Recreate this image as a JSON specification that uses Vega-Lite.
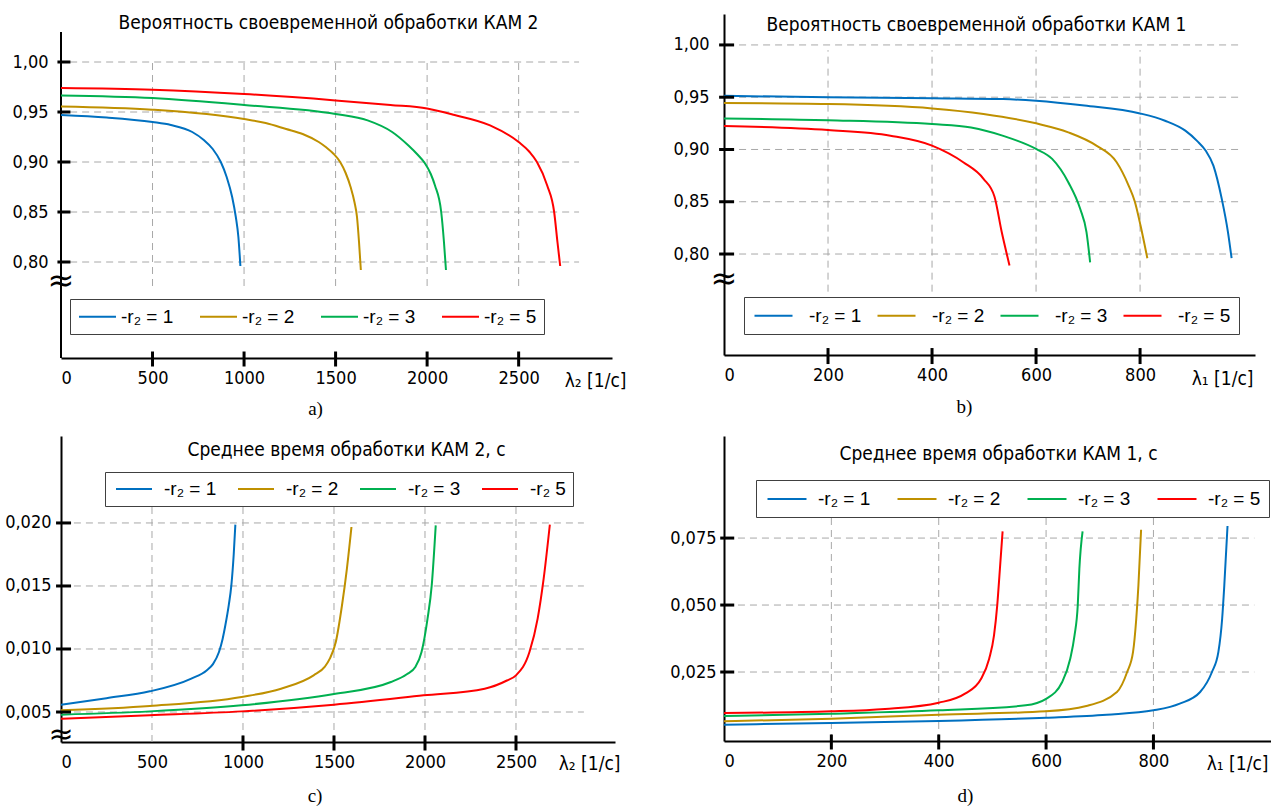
{
  "$schema": "https://vega.github.io/schema/vega-lite/v6.json",
  "padding": {"left": 4, "top": 13, "right": 0, "bottom": 0},
  "background": "white",
  "columns": 2,
  "bounds": "flush",
  "spacing": {"row": 78, "column": 109},
  "resolve": {"scale": {"color": "independent", "x": "independent", "y": "independent"}, "legend": {"color": "independent"}, "axis": {"x": "independent", "y": "independent"}},
  "config": {
    "view": {"stroke": null},
    "axis": {"domainColor": "#000", "domainWidth": 2, "ticks": false, "grid": false, "labelFont": "Liberation Sans Narrow, Arial Narrow, DejaVu Sans Condensed, sans-serif", "labelFontSize": 18, "labelColor": "#000", "titleFont": "Liberation Sans Narrow, Arial Narrow, DejaVu Sans Condensed, sans-serif", "titleFontSize": 19, "titleFontWeight": "normal", "titleColor": "#000"},
    "legend": {"labelFont": "Liberation Sans, Arial, sans-serif", "labelFontSize": 19, "labelColor": "#000", "symbolType": "M-2,0L2,0", "symbolStrokeWidth": 2, "strokeColor": "#404040", "fillColor": "#ffffff", "direction": "horizontal", "orient": "none"},
    "title": {"font": "Liberation Serif, serif", "fontSize": 19, "fontWeight": "normal", "color": "#000"},
    "line": {"strokeWidth": 2, "interpolate": "monotone"},
    "tick": {"thickness": 3, "color": "#000", "opacity": 1}
  },
  "datasets": {
    "la": [
      {"x":0,"y":0.947,"s":"1"},{"x":250,"y":0.9445,"s":"1"},{"x":500,"y":0.940,"s":"1"},{"x":600,"y":0.937,"s":"1"},{"x":717,"y":0.930,"s":"1"},{"x":780,"y":0.922,"s":"1"},{"x":829,"y":0.913,"s":"1"},{"x":873,"y":0.900,"s":"1"},{"x":905,"y":0.885,"s":"1"},{"x":935,"y":0.865,"s":"1"},{"x":955,"y":0.845,"s":"1"},{"x":969,"y":0.825,"s":"1"},{"x":980,"y":0.796,"s":"1"},
      {"x":0,"y":0.9556,"s":"2"},{"x":500,"y":0.9523,"s":"2"},{"x":1000,"y":0.943,"s":"2"},{"x":1118,"y":0.939,"s":"2"},{"x":1230,"y":0.933,"s":"2"},{"x":1320,"y":0.928,"s":"2"},{"x":1408,"y":0.920,"s":"2"},{"x":1450,"y":0.9145,"s":"2"},{"x":1490,"y":0.908,"s":"2"},{"x":1525,"y":0.900,"s":"2"},{"x":1555,"y":0.889,"s":"2"},{"x":1582,"y":0.875,"s":"2"},{"x":1603,"y":0.860,"s":"2"},{"x":1617,"y":0.845,"s":"2"},{"x":1628,"y":0.82,"s":"2"},{"x":1638,"y":0.792,"s":"2"},
      {"x":0,"y":0.9666,"s":"3"},{"x":500,"y":0.964,"s":"3"},{"x":1000,"y":0.957,"s":"3"},{"x":1500,"y":0.948,"s":"3"},{"x":1675,"y":0.9416,"s":"3"},{"x":1809,"y":0.930,"s":"3"},{"x":1898,"y":0.9165,"s":"3"},{"x":1950,"y":0.907,"s":"3"},{"x":1987,"y":0.899,"s":"3"},{"x":2020,"y":0.888,"s":"3"},{"x":2043,"y":0.8765,"s":"3"},{"x":2077,"y":0.850,"s":"3"},{"x":2092,"y":0.82,"s":"3"},{"x":2103,"y":0.792,"s":"3"},
      {"x":0,"y":0.974,"s":"5"},{"x":500,"y":0.9723,"s":"5"},{"x":1000,"y":0.968,"s":"5"},{"x":1500,"y":0.9616,"s":"5"},{"x":1800,"y":0.957,"s":"5"},{"x":2000,"y":0.9535,"s":"5"},{"x":2150,"y":0.947,"s":"5"},{"x":2344,"y":0.9366,"s":"5"},{"x":2500,"y":0.920,"s":"5"},{"x":2560,"y":0.910,"s":"5"},{"x":2600,"y":0.900,"s":"5"},{"x":2656,"y":0.8765,"s":"5"},{"x":2694,"y":0.850,"s":"5"},{"x":2712,"y":0.82,"s":"5"},{"x":2727,"y":0.796,"s":"5"}
    ],
    "lb": [
      {"x":0,"y":0.9513,"s":"1"},{"x":200,"y":0.950,"s":"1"},{"x":400,"y":0.949,"s":"1"},{"x":537,"y":0.9482,"s":"1"},{"x":600,"y":0.9466,"s":"1"},{"x":693,"y":0.942,"s":"1"},{"x":800,"y":0.9345,"s":"1"},{"x":848,"y":0.9275,"s":"1"},{"x":887,"y":0.918,"s":"1"},{"x":910,"y":0.908,"s":"1"},{"x":926,"y":0.899,"s":"1"},{"x":941,"y":0.8846,"s":"1"},{"x":957,"y":0.853,"s":"1"},{"x":969,"y":0.821,"s":"1"},{"x":976,"y":0.796,"s":"1"},
      {"x":0,"y":0.9444,"s":"2"},{"x":200,"y":0.9434,"s":"2"},{"x":400,"y":0.9393,"s":"2"},{"x":499,"y":0.934,"s":"2"},{"x":600,"y":0.925,"s":"2"},{"x":662,"y":0.9164,"s":"2"},{"x":716,"y":0.9037,"s":"2"},{"x":755,"y":0.8878,"s":"2"},{"x":778,"y":0.8655,"s":"2"},{"x":790,"y":0.85,"s":"2"},{"x":801,"y":0.827,"s":"2"},{"x":814,"y":0.796,"s":"2"},
      {"x":0,"y":0.9297,"s":"3"},{"x":200,"y":0.928,"s":"3"},{"x":400,"y":0.9243,"s":"3"},{"x":475,"y":0.921,"s":"3"},{"x":537,"y":0.913,"s":"3"},{"x":600,"y":0.9005,"s":"3"},{"x":631,"y":0.891,"s":"3"},{"x":662,"y":0.8687,"s":"3"},{"x":685,"y":0.843,"s":"3"},{"x":697,"y":0.821,"s":"3"},{"x":704,"y":0.792,"s":"3"},
      {"x":0,"y":0.9224,"s":"5"},{"x":200,"y":0.9186,"s":"5"},{"x":320,"y":0.9132,"s":"5"},{"x":400,"y":0.9037,"s":"5"},{"x":460,"y":0.8878,"s":"5"},{"x":499,"y":0.8719,"s":"5"},{"x":520,"y":0.855,"s":"5"},{"x":534,"y":0.821,"s":"5"},{"x":549,"y":0.789,"s":"5"}
    ],
    "lc": [
      {"x":0,"y":0.00558,"s":"1"},{"x":250,"y":0.0061,"s":"1"},{"x":488,"y":0.00664,"s":"1"},{"x":716,"y":0.00765,"s":"1"},{"x":800,"y":0.0083,"s":"1"},{"x":835,"y":0.0088,"s":"1"},{"x":868,"y":0.00976,"s":"1"},{"x":888,"y":0.0108,"s":"1"},{"x":903,"y":0.01188,"s":"1"},{"x":922,"y":0.0135,"s":"1"},{"x":936,"y":0.01505,"s":"1"},{"x":949,"y":0.0175,"s":"1"},{"x":958,"y":0.01987,"s":"1"},
      {"x":0,"y":0.00513,"s":"2"},{"x":488,"y":0.00548,"s":"2"},{"x":992,"y":0.00619,"s":"2"},{"x":1209,"y":0.00685,"s":"2"},{"x":1388,"y":0.00791,"s":"2"},{"x":1450,"y":0.0086,"s":"2"},{"x":1477,"y":0.00923,"s":"2"},{"x":1510,"y":0.01056,"s":"2"},{"x":1544,"y":0.01347,"s":"2"},{"x":1571,"y":0.01638,"s":"2"},{"x":1596,"y":0.01968,"s":"2"},
      {"x":0,"y":0.00479,"s":"3"},{"x":488,"y":0.00505,"s":"3"},{"x":992,"y":0.00553,"s":"3"},{"x":1500,"y":0.00643,"s":"3"},{"x":1813,"y":0.00738,"s":"3"},{"x":1900,"y":0.0080,"s":"3"},{"x":1947,"y":0.00857,"s":"3"},{"x":1981,"y":0.00976,"s":"3"},{"x":2014,"y":0.01241,"s":"3"},{"x":2037,"y":0.01505,"s":"3"},{"x":2059,"y":0.01981,"s":"3"},
      {"x":0,"y":0.00447,"s":"5"},{"x":488,"y":0.00474,"s":"5"},{"x":992,"y":0.00505,"s":"5"},{"x":1500,"y":0.00558,"s":"5"},{"x":1992,"y":0.00632,"s":"5"},{"x":2328,"y":0.00685,"s":"5"},{"x":2450,"y":0.0075,"s":"5"},{"x":2500,"y":0.00791,"s":"5"},{"x":2574,"y":0.00976,"s":"5"},{"x":2619,"y":0.01241,"s":"5"},{"x":2652,"y":0.01558,"s":"5"},{"x":2686,"y":0.01987,"s":"5"}
    ],
    "ld": [
      {"x":0,"y":0.00535,"s":"1"},{"x":200,"y":0.00597,"s":"1"},{"x":400,"y":0.00672,"s":"1"},{"x":600,"y":0.00796,"s":"1"},{"x":713,"y":0.00908,"s":"1"},{"x":800,"y":0.0107,"s":"1"},{"x":849,"y":0.0132,"s":"1"},{"x":887,"y":0.01754,"s":"1"},{"x":909,"y":0.025,"s":"1"},{"x":921,"y":0.0325,"s":"1"},{"x":928,"y":0.0449,"s":"1"},{"x":932,"y":0.0573,"s":"1"},{"x":938,"y":0.0795,"s":"1"},
      {"x":0,"y":0.00659,"s":"2"},{"x":200,"y":0.00759,"s":"2"},{"x":400,"y":0.00908,"s":"2"},{"x":600,"y":0.01032,"s":"2"},{"x":675,"y":0.01231,"s":"2"},{"x":732,"y":0.01754,"s":"2"},{"x":751,"y":0.025,"s":"2"},{"x":762,"y":0.0325,"s":"2"},{"x":768,"y":0.0449,"s":"2"},{"x":772,"y":0.0573,"s":"2"},{"x":777,"y":0.0781,"s":"2"},
      {"x":0,"y":0.00858,"s":"3"},{"x":200,"y":0.00945,"s":"3"},{"x":400,"y":0.0107,"s":"3"},{"x":562,"y":0.01256,"s":"3"},{"x":600,"y":0.015,"s":"3"},{"x":630,"y":0.02127,"s":"3"},{"x":645,"y":0.02998,"s":"3"},{"x":653,"y":0.03868,"s":"3"},{"x":659,"y":0.0499,"s":"3"},{"x":662,"y":0.06356,"s":"3"},{"x":668,"y":0.0775,"s":"3"},
      {"x":0,"y":0.0097,"s":"5"},{"x":200,"y":0.01032,"s":"5"},{"x":300,"y":0.0112,"s":"5"},{"x":400,"y":0.01356,"s":"5"},{"x":449,"y":0.01692,"s":"5"},{"x":479,"y":0.02251,"s":"5"},{"x":494,"y":0.02998,"s":"5"},{"x":503,"y":0.03868,"s":"5"},{"x":509,"y":0.0499,"s":"5"},{"x":514,"y":0.06356,"s":"5"},{"x":519,"y":0.0775,"s":"5"}
    ],
    "gxa": [{"x":500},{"x":1000},{"x":1500},{"x":2000},{"x":2500}],
    "gya": [{"y":0.8},{"y":0.85},{"y":0.9},{"y":0.95},{"y":1.0}],
    "gxb": [{"x":200},{"x":400},{"x":600},{"x":800}],
    "gyb": [{"y":0.8},{"y":0.85},{"y":0.9},{"y":0.95},{"y":1.0}],
    "gxc": [{"x":500},{"x":1000},{"x":1500},{"x":2000},{"x":2500}],
    "tkc": [{"x":1000},{"x":1500},{"x":2000},{"x":2500}],
    "gyc": [{"y":0.005},{"y":0.01},{"y":0.015},{"y":0.02}],
    "gxd": [{"x":200},{"x":400},{"x":600},{"x":800}],
    "gyd": [{"y":0.025},{"y":0.05},{"y":0.075}]
  },
  "concat": [
    {
      "width": 551, "height": 344,
      "title": {"text": "a)", "orient": "bottom", "anchor": "middle", "dx": -21, "offset": 10},
      "layer": [
        {"data": {"name": "gxa"}, "mark": {"type": "rule", "color": "#a8a8a8", "strokeWidth": 1, "strokeDash": [7, 5]},
         "encoding": {"x": {"field": "x", "type": "quantitative"}, "y": {"datum": 0.776}, "y2": {"datum": 1.0}}},
        {"data": {"name": "gya"}, "mark": {"type": "rule", "color": "#a8a8a8", "strokeWidth": 1, "strokeDash": [7, 5]},
         "encoding": {"y": {"field": "y", "type": "quantitative"}, "x": {"datum": 50}, "x2": {"datum": 2830}}},
        {"data": {"values": [{}]}, "mark": {"type": "rule", "color": "#000", "strokeWidth": 2},
         "encoding": {"x": {"datum": 0}, "y": {"datum": 0.704}, "y2": {"datum": 1.03}}},
        {"data": {"values": [{}]}, "mark": {"type": "text", "text": "≈", "font": "DejaVu Sans", "fontSize": 32, "color": "#000"},
         "encoding": {"x": {"datum": 0}, "y": {"datum": 0.781}}},
        {"data": {"name": "la"}, "mark": {"type": "line"},
         "encoding": {
           "x": {"field": "x", "type": "quantitative", "scale": {"domain": [0, 3010], "nice": false, "zero": false},
                 "axis": {"values": [0,500,1000,1500,2000,2500], "format": "d", "labelFlush": true, "labelPadding": 11, "title": "λ₂ [1/c]", "titleX": 565, "titleY": 28, "titleAlign": "right", "titleBaseline": "alphabetic", "titleAnchor": null}},
           "y": {"field": "y", "type": "quantitative", "scale": {"domain": [0.704, 1.048], "nice": false, "zero": false},
                 "axis": {"values": [0.8,0.85,0.9,0.95,1.0], "labelExpr": "replace(format(datum.value, '.2f'), '.', ',')", "domain": false, "labelPadding": 13, "title": "Вероятность своевременной обработки КАМ 2", "titleAngle": 0, "titleX": 267, "titleY": 14, "titleAlign": "center", "titleBaseline": "alphabetic", "titleAnchor": null}},
           "color": {"field": "s", "type": "nominal", "scale": {"domain": ["1","2","3","5"], "range": ["#0070C0","#BF9000","#00B050","#FF0000"]},
                     "legend": {"legendX": 9, "legendY": 285, "columns": 4, "title": null, "labelExpr": "'-r₂ = ' + datum.label", "columnPadding": 22, "labelOffset": 13, "padding": 7, "symbolOffset": 10, "symbolSize": 342}}
         }},
        {"data": {"name": "gxa"}, "mark": {"type": "tick", "orient": "vertical", "size": 15},
         "encoding": {"x": {"field": "x", "type": "quantitative"}, "y": {"datum": 0.703}}},
        {"data": {"name": "gya"}, "mark": {"type": "tick", "orient": "horizontal", "size": 13},
         "encoding": {"y": {"field": "y", "type": "quantitative"}, "x": {"datum": 16}}}
      ]
    },
    {
      "width": 531, "height": 341,
      "title": {"text": "b)", "orient": "bottom", "anchor": "middle", "dx": -25, "offset": 10},
      "layer": [
        {"data": {"name": "gxb"}, "mark": {"type": "rule", "color": "#a8a8a8", "strokeWidth": 1, "strokeDash": [7, 5]},
         "encoding": {"x": {"field": "x", "type": "quantitative"}, "y": {"datum": 0.764}, "y2": {"datum": 0.995}}},
        {"data": {"name": "gyb"}, "mark": {"type": "rule", "color": "#a8a8a8", "strokeWidth": 1, "strokeDash": [7, 5]},
         "encoding": {"y": {"field": "y", "type": "quantitative"}, "x": {"datum": 29}, "x2": {"datum": 990}}},
        {"data": {"values": [{}]}, "mark": {"type": "text", "text": "≈", "font": "DejaVu Sans", "fontSize": 32, "color": "#000"},
         "encoding": {"x": {"datum": 0}, "y": {"datum": 0.776}}},
        {"data": {"name": "lb"}, "mark": {"type": "line"},
         "encoding": {
           "x": {"field": "x", "type": "quantitative", "scale": {"domain": [0, 1021], "nice": false, "zero": false},
                 "axis": {"values": [0,200,400,600,800], "format": "d", "labelPadding": 11, "title": "λ₁ [1/c]", "titleX": 529, "titleY": 29, "titleAlign": "right", "titleBaseline": "alphabetic", "titleAnchor": null}},
           "y": {"field": "y", "type": "quantitative", "scale": {"domain": [0.7034, 1.0296], "nice": false, "zero": false},
                 "axis": {"values": [0.8,0.85,0.9,0.95,1.0], "labelExpr": "replace(format(datum.value, '.2f'), '.', ',')", "labelPadding": 15, "title": "Вероятность своевременной обработки КАМ 1", "titleAngle": 0, "titleX": 252, "titleY": 16, "titleAlign": "center", "titleBaseline": "alphabetic", "titleAnchor": null}},
           "color": {"field": "s", "type": "nominal", "scale": {"domain": ["1","2","3","5"], "range": ["#0070C0","#BF9000","#00B050","#FF0000"]},
                     "legend": {"legendX": 20, "legendY": 283, "columns": 4, "title": null, "labelExpr": "'-r₂ = ' + datum.label", "columnPadding": 11, "labelOffset": 25, "padding": 8, "symbolOffset": 11, "symbolSize": 361}}
         }},
        {"data": {"name": "gxb"}, "mark": {"type": "tick", "orient": "vertical", "size": 16},
         "encoding": {"x": {"field": "x", "type": "quantitative"}, "y": {"datum": 0.7024}}},
        {"data": {"name": "gyb"}, "mark": {"type": "tick", "orient": "horizontal", "size": 15},
         "encoding": {"y": {"field": "y", "type": "quantitative"}, "x": {"datum": 5}}}
      ]
    },
    {
      "width": 554, "height": 306,
      "title": {"text": "c)", "orient": "bottom", "anchor": "middle", "dx": -23, "offset": 14},
      "layer": [
        {"data": {"name": "gxc"}, "mark": {"type": "rule", "color": "#a8a8a8", "strokeWidth": 1, "strokeDash": [7, 5]},
         "encoding": {"x": {"field": "x", "type": "quantitative"}, "y": {"datum": 0.00262}, "y2": {"datum": 0.02135}}},
        {"data": {"name": "gyc"}, "mark": {"type": "rule", "color": "#a8a8a8", "strokeWidth": 1, "strokeDash": [7, 5]},
         "encoding": {"y": {"field": "y", "type": "quantitative"}, "x": {"datum": 71}, "x2": {"datum": 2873}}},
        {"data": {"values": [{}]}, "mark": {"type": "text", "text": "≈", "font": "DejaVu Sans", "fontSize": 30, "color": "#000"},
         "encoding": {"x": {"datum": 0}, "y": {"datum": 0.0032}}},
        {"data": {"name": "lc"}, "mark": {"type": "line"},
         "encoding": {
           "x": {"field": "x", "type": "quantitative", "scale": {"domain": [0, 3044], "nice": false, "zero": false},
                 "axis": {"values": [0,500,1000,1500,2000,2500], "format": "d", "labelFlush": true, "labelPadding": 11, "title": "λ₂ [1/c]", "titleX": 559, "titleY": 27, "titleAlign": "right", "titleBaseline": "alphabetic", "titleAnchor": null}},
           "y": {"field": "y", "type": "quantitative", "scale": {"domain": [0.00262, 0.0269], "nice": false, "zero": false},
                 "axis": {"values": [0.005,0.01,0.015,0.02], "labelExpr": "replace(format(datum.value, '.3f'), '.', ',')", "labelPadding": 10, "title": "Среднее время обработки КАМ 2, с", "titleAngle": 0, "titleX": 285, "titleY": 19, "titleAlign": "center", "titleBaseline": "alphabetic", "titleAnchor": null}},
           "color": {"field": "s", "type": "nominal", "scale": {"domain": ["1","2","3","5"], "range": ["#0070C0","#BF9000","#00B050","#FF0000"]},
                     "legend": {"legendX": 44, "legendY": 36, "columns": 4, "title": null, "labelExpr": "datum.label == '5' ? '-r₂ 5' : '-r₂ = ' + datum.label", "columnPadding": 17, "labelOffset": 20, "padding": 7, "symbolOffset": 12, "symbolSize": 324}}
         }},
        {"data": {"name": "tkc"}, "mark": {"type": "tick", "orient": "vertical", "size": 15},
         "encoding": {"x": {"field": "x", "type": "quantitative"}, "y": {"datum": 0.00254}}},
        {"data": {"name": "gyc"}, "mark": {"type": "tick", "orient": "horizontal", "size": 15},
         "encoding": {"y": {"field": "y", "type": "quantitative"}, "x": {"datum": 14}}}
      ]
    },
    {
      "width": 547, "height": 305,
      "title": {"text": "d)", "orient": "bottom", "anchor": "middle", "dx": -32, "offset": 14},
      "layer": [
        {"data": {"name": "gxd"}, "mark": {"type": "rule", "color": "#a8a8a8", "strokeWidth": 1, "strokeDash": [7, 5]},
         "encoding": {"x": {"field": "x", "type": "quantitative"}, "y": {"datum": -0.00075}, "y2": {"datum": 0.0832}}},
        {"data": {"name": "gyd"}, "mark": {"type": "rule", "color": "#a8a8a8", "strokeWidth": 1, "strokeDash": [7, 5]},
         "encoding": {"y": {"field": "y", "type": "quantitative"}, "x": {"datum": 26}, "x2": {"datum": 988}}},
        {"data": {"name": "ld"}, "mark": {"type": "line"},
         "encoding": {
           "x": {"field": "x", "type": "quantitative", "scale": {"domain": [0, 1019], "nice": false, "zero": false},
                 "axis": {"values": [0,200,400,600,800], "format": "d", "labelPadding": 11, "title": "λ₁ [1/c]", "titleX": 544, "titleY": 28, "titleAlign": "right", "titleBaseline": "alphabetic", "titleAnchor": null}},
           "y": {"field": "y", "type": "quantitative", "scale": {"domain": [-0.00075, 0.1131], "nice": false, "zero": false},
                 "axis": {"values": [0.025,0.05,0.075], "labelExpr": "replace(format(datum.value, '.3f'), '.', ',')", "labelPadding": 8, "title": "Среднее время обработки КАМ  1, с", "titleAngle": 0, "titleX": 274, "titleY": 23, "titleAlign": "center", "titleBaseline": "alphabetic", "titleAnchor": null}},
           "color": {"field": "s", "type": "nominal", "scale": {"domain": ["1","2","3","5"], "range": ["#0070C0","#BF9000","#00B050","#FF0000"]},
                     "legend": {"legendX": 32, "legendY": 44, "columns": 4, "title": null, "labelExpr": "'-r₂ = ' + datum.label", "columnPadding": 22, "labelOffset": 20, "padding": 8, "symbolOffset": 12, "symbolSize": 380}}
         }},
        {"data": {"name": "gxd"}, "mark": {"type": "tick", "orient": "vertical", "size": 15},
         "encoding": {"x": {"field": "x", "type": "quantitative"}, "y": {"datum": -0.00112}}},
        {"data": {"name": "gyd"}, "mark": {"type": "tick", "orient": "horizontal", "size": 14},
         "encoding": {"y": {"field": "y", "type": "quantitative"}, "x": {"datum": 6}}}
      ]
    }
  ]
}
